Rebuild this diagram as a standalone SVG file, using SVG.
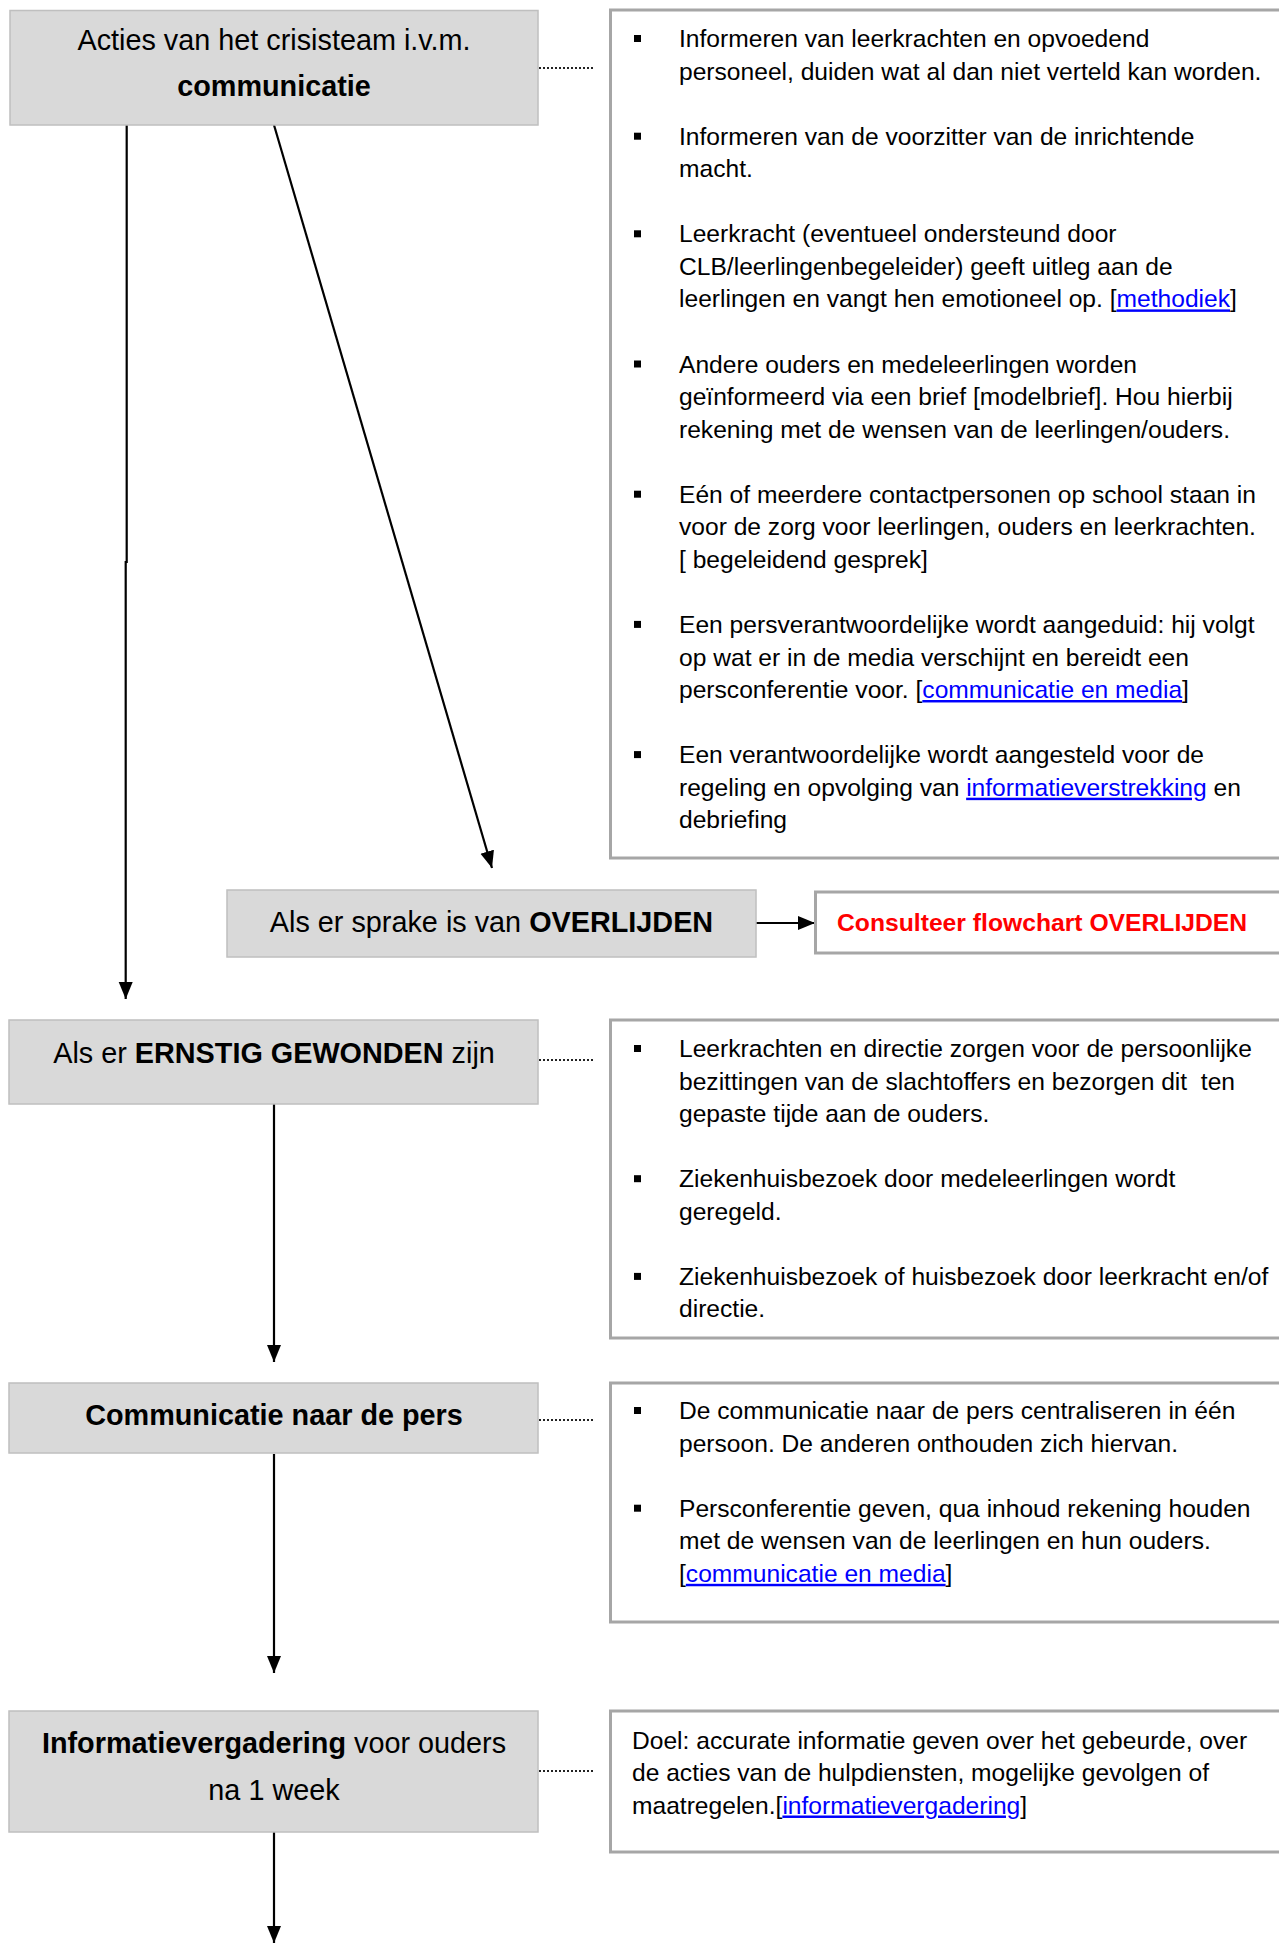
<svg xmlns="http://www.w3.org/2000/svg" width="1279" height="1943" viewBox="0 0 1279 1943">
<defs>
<style>
.node{fill:#d9d9d9;stroke:#bfbfbf;stroke-width:1.5}
.panel{fill:#ffffff;stroke:#a6a6a6;stroke-width:3}
.nt{font-family:"Liberation Sans",Arial,sans-serif;font-size:28.8px;fill:#000;text-anchor:middle}
.pt{font-family:"Liberation Sans",Arial,sans-serif;font-size:24.6px;fill:#000}
.b{font-weight:bold}
.lnk{fill:#0000ff;text-decoration:underline}
.red{font-family:"Liberation Sans",Arial,sans-serif;font-size:24.7px;font-weight:bold;fill:#ff0000}
.arrow{fill:none;stroke:#000;stroke-width:2.2;marker-end:url(#ah)}
.dot{fill:none;stroke:#222;stroke-width:2;stroke-dasharray:2 2}
.bul{fill:#000}
</style>
<marker id="ah" markerUnits="userSpaceOnUse" markerWidth="18" markerHeight="15" refX="17" refY="7" orient="auto">
<path d="M0,0 L17,7 L0,14 z" fill="#000"/>
</marker>
</defs>
<rect width="1279" height="1943" fill="#fff"/>

<g id="connectors">
<path class="arrow" d="M126.7,125 V562 H125.7 V999"/>
<path class="arrow" d="M274,125 L492,868"/>
<path class="arrow" d="M756,923 H815"/>
<path class="arrow" d="M274,1104 V1362"/>
<path class="arrow" d="M274,1454 V1673"/>
<path class="arrow" d="M274,1832 V1943"/>
<path class="dot" d="M539,68 H593"/>
<path class="dot" d="M539,1060 H593"/>
<path class="dot" d="M539,1420 H593"/>
<path class="dot" d="M539,1771 H593"/>
</g>

<g id="node-acties">
<rect class="node" x="10" y="10.5" width="528" height="114.5"/>
<text class="nt" x="274" y="50">Acties van het crisisteam i.v.m.</text>
<text class="nt b" x="274" y="96">communicatie</text>
</g>

<g id="panel-acties">
<rect class="panel" x="610.5" y="10" width="690" height="848"/>
<rect class="bul" x="634" y="35" width="7" height="7"/>
<text class="pt" x="679" y="47">Informeren van leerkrachten en opvoedend</text>
<text class="pt" x="679" y="79.6">personeel, duiden wat al dan niet verteld kan worden.</text>
<rect class="bul" x="634" y="132.7" width="7" height="7"/>
<text class="pt" x="679" y="144.7">Informeren van de voorzitter van de inrichtende</text>
<text class="pt" x="679" y="177.2">macht.</text>
<rect class="bul" x="634" y="230.3" width="7" height="7"/>
<text class="pt" x="679" y="242.3">Leerkracht (eventueel ondersteund door</text>
<text class="pt" x="679" y="274.9">CLB/leerlingenbegeleider) geeft uitleg aan de</text>
<text class="pt" x="679" y="307.4">leerlingen en vangt hen emotioneel op. [<tspan class="lnk">methodiek</tspan>]</text>
<rect class="bul" x="634" y="360.5" width="7" height="7"/>
<text class="pt" x="679" y="372.5">Andere ouders en medeleerlingen worden</text>
<text class="pt" x="679" y="405.1">geïnformeerd via een brief [modelbrief]. Hou hierbij</text>
<text class="pt" x="679" y="437.6">rekening met de wensen van de leerlingen/ouders.</text>
<rect class="bul" x="634" y="490.7" width="7" height="7"/>
<text class="pt" x="679" y="502.7">Eén of meerdere contactpersonen op school staan in</text>
<text class="pt" x="679" y="535.3">voor de zorg voor leerlingen, ouders en leerkrachten.</text>
<text class="pt" x="679" y="567.8">[ begeleidend gesprek]</text>
<rect class="bul" x="634" y="620.9" width="7" height="7"/>
<text class="pt" x="679" y="632.9">Een persverantwoordelijke wordt aangeduid: hij volgt</text>
<text class="pt" x="679" y="665.5">op wat er in de media verschijnt en bereidt een</text>
<text class="pt" x="679" y="698">persconferentie voor. [<tspan class="lnk">communicatie en media</tspan>]</text>
<rect class="bul" x="634" y="751.1" width="7" height="7"/>
<text class="pt" x="679" y="763.1">Een verantwoordelijke wordt aangesteld voor de</text>
<text class="pt" x="679" y="795.7">regeling en opvolging van <tspan class="lnk">informatieverstrekking</tspan> en</text>
<text class="pt" x="679" y="828.2">debriefing</text>
</g>

<g id="node-overlijden">
<rect class="node" x="227" y="890" width="529" height="67"/>
<text class="nt" x="491.5" y="932">Als er sprake is van <tspan class="b">OVERLIJDEN</tspan></text>
</g>

<g id="node-consulteer">
<rect class="panel" x="815.5" y="892" width="480" height="61"/>
<text class="red" x="837" y="931">Consulteer flowchart OVERLIJDEN</text>
</g>

<g id="node-gewonden">
<rect class="node" x="9" y="1020" width="529" height="84"/>
<text class="nt" x="274" y="1063">Als er <tspan class="b">ERNSTIG GEWONDEN</tspan> zijn</text>
</g>

<g id="panel-gewonden">
<rect class="panel" x="610.5" y="1020" width="690" height="318"/>
<rect class="bul" x="634" y="1045" width="7" height="7"/>
<text class="pt" x="679" y="1057">Leerkrachten en directie zorgen voor de persoonlijke</text>
<text class="pt" x="679" y="1089.6" xml:space="preserve">bezittingen van de slachtoffers en bezorgen dit  ten</text>
<text class="pt" x="679" y="1122.1">gepaste tijde aan de ouders.</text>
<rect class="bul" x="634" y="1175.2" width="7" height="7"/>
<text class="pt" x="679" y="1187.2">Ziekenhuisbezoek door medeleerlingen wordt</text>
<text class="pt" x="679" y="1219.8">geregeld.</text>
<rect class="bul" x="634" y="1272.9" width="7" height="7"/>
<text class="pt" x="679" y="1284.9">Ziekenhuisbezoek of huisbezoek door leerkracht en/of</text>
<text class="pt" x="679" y="1317.4">directie.</text>
</g>

<g id="node-pers">
<rect class="node" x="9" y="1383" width="529" height="70"/>
<text class="nt b" x="274" y="1425">Communicatie naar de pers</text>
</g>

<g id="panel-pers">
<rect class="panel" x="610.5" y="1383" width="690" height="239"/>
<rect class="bul" x="634" y="1407" width="7" height="7"/>
<text class="pt" x="679" y="1419">De communicatie naar de pers centraliseren in één</text>
<text class="pt" x="679" y="1451.6">persoon. De anderen onthouden zich hiervan.</text>
<rect class="bul" x="634" y="1504.7" width="7" height="7"/>
<text class="pt" x="679" y="1516.7">Persconferentie geven, qua inhoud rekening houden</text>
<text class="pt" x="679" y="1549.2">met de wensen van de leerlingen en hun ouders.</text>
<text class="pt" x="679" y="1581.8">[<tspan class="lnk">communicatie en media</tspan>]</text>
</g>

<g id="node-info">
<rect class="node" x="9" y="1711" width="529" height="121"/>
<text class="nt" x="274" y="1753"><tspan class="b">Informatievergadering</tspan> voor ouders</text>
<text class="nt" x="274" y="1800">na 1 week</text>
</g>

<g id="panel-info">
<rect class="panel" x="610.5" y="1711" width="690" height="141"/>
<text class="pt" x="632" y="1748.5">Doel: accurate informatie geven over het gebeurde, over</text>
<text class="pt" x="632" y="1781">de acties van de hulpdiensten, mogelijke gevolgen of</text>
<text class="pt" x="632" y="1813.5">maatregelen.[<tspan class="lnk">informatievergadering</tspan>]</text>
</g>
</svg>
